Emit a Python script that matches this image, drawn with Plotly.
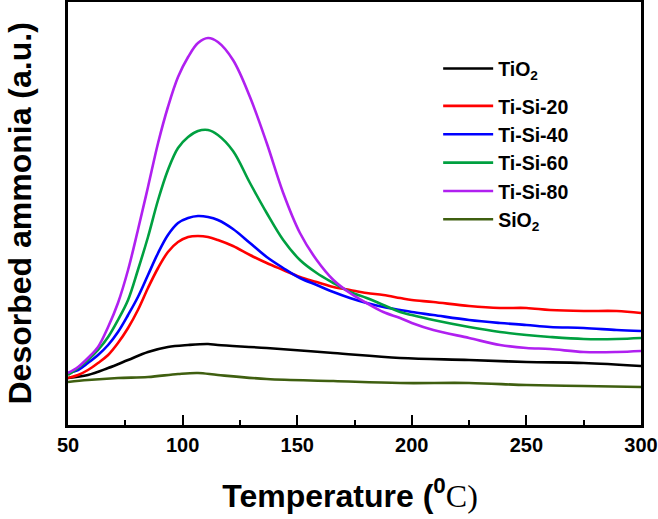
import plotly.graph_objects as go

# Temperatures (deg C) and desorbed-ammonia intensities (a.u.)
t_rise = [50, 54.4, 58.7, 63.1, 67.5, 71.8, 76.2, 80.5, 84.9, 89.3, 93.6, 98, 102.4, 106.7, 111.1, 115.4]
t_fall = [122, 129.4, 136.7, 143.9, 151.2, 158.5, 165.8, 173, 180.3, 187.6, 194.9, 200,
          209.4, 225, 238.5, 250, 260.3, 275, 289.4, 300]

v_80 = [52, 58, 67, 78, 98, 122, 155, 195, 238, 282, 318, 348, 368, 382, 387, 383,
        365, 328, 282, 232, 192, 165, 145, 132, 122, 113, 107, 102, 95, 87, 80, 77, 76, 73, 73, 74]
v_60 = [50, 57, 65, 75, 88, 105, 125, 155, 188, 225, 255, 277, 288, 294, 295, 290,
        274, 242, 212, 185, 165, 152, 142, 133, 127, 120, 113, 110, 105, 98, 93, 90, 88, 86, 86, 87]
v_40 = [52, 55, 62, 70, 80, 93, 110, 128, 150, 172, 190, 202, 207, 209, 208, 205,
        196, 182, 168, 157, 147, 140, 133, 127, 122, 118, 115, 113, 110, 105, 102, 100, 98, 97, 95, 94]
v_20 = [47, 50, 55, 62, 70, 82, 97, 115, 137, 157, 173, 183, 188, 189, 188, 185,
        179, 170, 162, 155, 148, 143, 138, 135, 132, 130, 127, 125, 123, 119, 117, 117, 115, 114, 114, 112]

t_ti = [50, 58.7, 67.5, 76.2, 84.9, 93.6, 102.4, 111.1, 115.4, 136.7, 165.8, 194.9, 225, 250, 275, 300]
v_ti = [47, 50, 57, 65, 73, 78, 80, 81, 80, 77, 72, 67, 65, 63, 62, 59]

t_si = [50, 58.7, 71.8, 84.9, 98, 106.7, 115.4, 136.7, 165.8, 194.9, 225, 250, 275, 300]
v_si = [43, 45, 47, 48, 51, 52, 50, 46, 44, 42, 42, 40, 39, 38]

names = ["TiO<sub>2</sub>", "Ti-Si-20", "Ti-Si-40", "Ti-Si-60", "Ti-Si-80", "SiO<sub>2</sub>"]
colors = ["#000000", "#ff0000", "#0000ff", "#00a040", "#b020f0", "#3f5f10"]
t_main = t_rise + t_fall
series_t = [t_ti, t_main, t_main, t_main, t_main, t_si]
series_v = [v_ti, v_20, v_40, v_60, v_80, v_si]
groups = ["a", "b", "b", "b", "b", "b"]

x_ticks = [50, 100, 150, 200, 250, 300]
y_title = "Desorbed ammonia (a.u.)"

fig = go.Figure()
for n, c, tx, vy, g in zip(names, colors, series_t, series_v, groups):
    fig.add_trace(go.Scatter(x=tx, y=vy, mode="lines", name=n, legendgroup=g,
                             line=dict(color=c, width=2.6, shape="spline", smoothing=1.0)))

font_main = dict(family="Liberation Sans, Arial, sans-serif", color="black", weight="bold")

fig.add_annotation(text=y_title, textangle=-90, xref="paper", yref="paper",
                   x=0, y=0.5, xanchor="center", yanchor="middle", xshift=-49,
                   showarrow=False, font=dict(size=32, **font_main))

fig.update_layout(
    width=658, height=519,
    margin=dict(l=68, r=17, t=2, b=94),
    paper_bgcolor="white", plot_bgcolor="white",
    font=font_main,
    showlegend=True,
    legend=dict(x=0.646, y=0.888, xanchor="left", yanchor="top",
                font=dict(size=19.5, **font_main), bgcolor="rgba(0,0,0,0)",
                tracegroupgap=9, itemwidth=50, traceorder="grouped"),
    xaxis=dict(range=[50, 300], tickvals=x_ticks, ticktext=[str(v) for v in x_ticks],
               ticks="inside", ticklen=10, tickwidth=2, tickcolor="black",
               minor=dict(ticks="inside", ticklen=5, tickwidth=2, dtick=25, tick0=50, tickcolor="black"),
               showline=True, linewidth=2.5, linecolor="black", mirror=True,
               showgrid=False, zeroline=False, automargin=False,
               tickfont=dict(size=20, **font_main),
               title=dict(text="Temperature (<sup>0</sup><span style=\"font-family:Liberation Serif;font-weight:normal\">C)</span>&nbsp;",
                          font=dict(size=32, **font_main), standoff=30)),
    yaxis=dict(range=[0, 423], showticklabels=False, ticks="",
               showline=True, linewidth=2.5, linecolor="black", mirror=True,
               showgrid=False, zeroline=False, automargin=False),
)

fig.write_html("out.html", config={"displayModeBar": False},
               post_script="document.body.style.margin='0';document.body.style.overflow='hidden';")
